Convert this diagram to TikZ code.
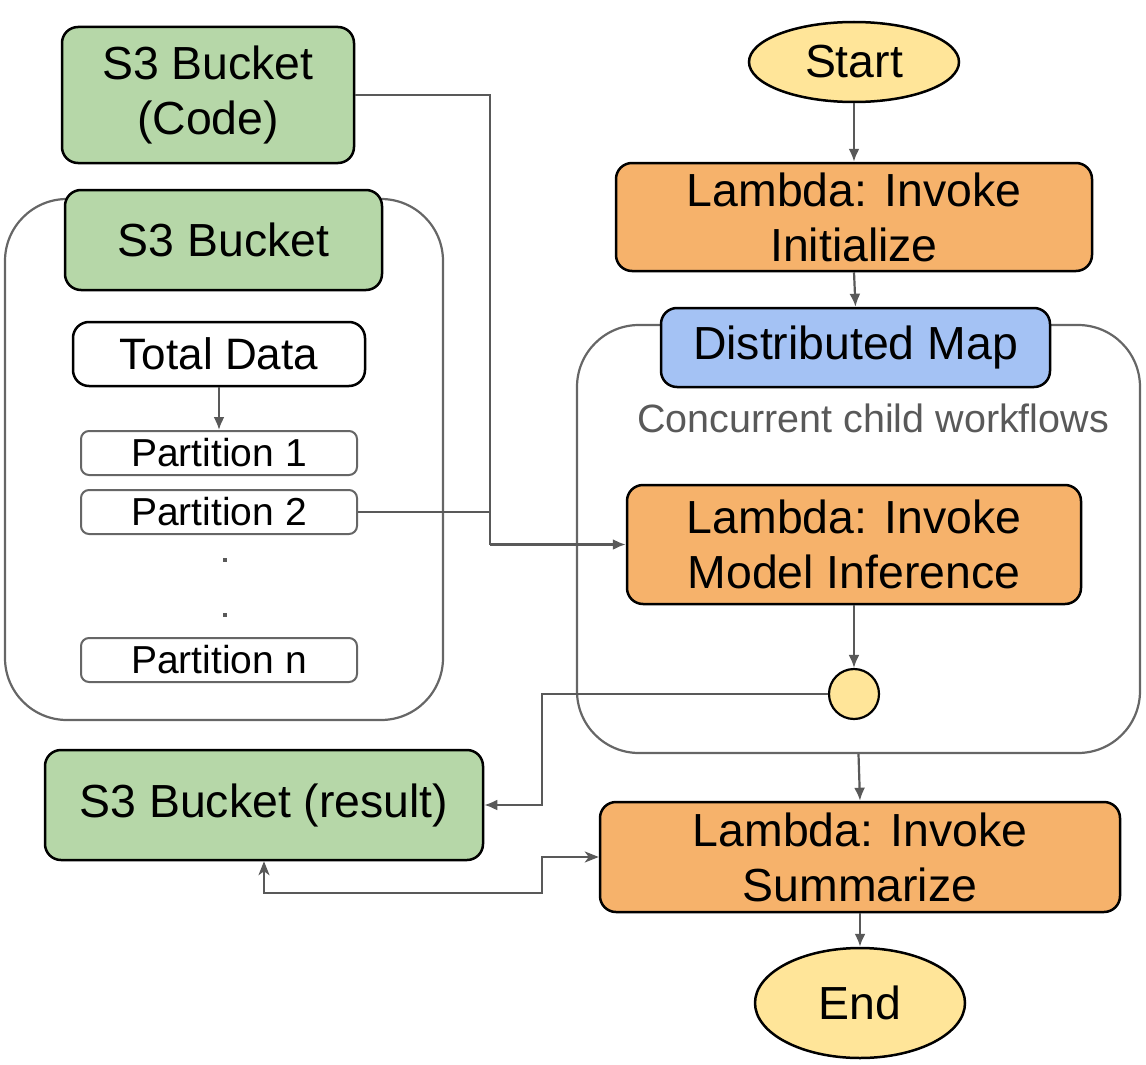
\documentclass[tikz,border=0pt]{standalone}
\usepackage{fontspec}
\setmainfont{Liberation Sans}
\usetikzlibrary{shapes.geometric,arrows.meta}
\definecolor{gfill}{HTML}{B6D7A8}
\definecolor{ofill}{HTML}{F6B26B}
\definecolor{bfill}{HTML}{A4C2F4}
\definecolor{yfill}{HTML}{FFE599}
\definecolor{conn}{HTML}{595959}
\definecolor{cont}{HTML}{666666}
\tikzset{
  big/.style={font=\fontsize{46.4}{55}\selectfont, align=center, text=black},
  box/.style={big, draw=black, line width=2.5pt, rounded corners=16pt, inner sep=0pt},
  greenbox/.style={box, fill=gfill},
  orangebox/.style={box, fill=ofill},
  bluebox/.style={box, fill=bfill},
  oval/.style={big, ellipse, draw=black, line width=2.5pt, fill=yfill, inner sep=0pt},
  part/.style={font=\fontsize{39}{46}\selectfont, draw=cont, line width=2pt, rounded corners=8pt, minimum width=276pt, minimum height=44pt, inner sep=0pt, fill=white},
  container/.style={draw=cont, line width=2.2pt, rounded corners=62pt, inner sep=0pt},
  link/.style={draw=conn, line width=2.2pt, -{Latex[length=13pt,width=11pt]}},
  plain/.style={draw=conn, line width=2.2pt},
  dotbox/.style={fill=conn, minimum size=4.5pt, inner sep=0pt}
}
\begin{document}
\begin{tikzpicture}[x=1pt,y=-1pt]
\useasboundingbox (0,0) rectangle (1146,1065);
% containers
\node[container, minimum width=438pt, minimum height=521pt] (leftbox) at (224,459.5) {};
\node[container, minimum width=563pt, minimum height=428pt] (mapbox) at (858.5,539) {};
% left side
\node[greenbox, minimum width=292pt, minimum height=136pt] (code) at (208,95) {S3 Bucket\\(Code)};
\node[greenbox, minimum width=317pt, minimum height=100pt] (s3) at (223.5,240) {S3 Bucket};
\node[box, fill=white, minimum width=292pt, minimum height=64pt, font=\fontsize{44}{50}\selectfont] (total) at (219,354) {Total Data};
\node[part] (p1) at (219,453) {Partition 1};
\node[part] (p2) at (219,512) {Partition 2};
\node[dotbox] (d1) at (225,560) {};
\node[dotbox] (d2) at (225,615) {};
\node[part] (pn) at (219,660) {Partition n};
\node[greenbox, minimum width=438pt, minimum height=110pt] (res) at (264,805) {S3 Bucket (result)};
% right side
\node[oval, minimum width=210pt, minimum height=80pt] (start) at (854,62) {Start};
\node[orangebox, minimum width=476pt, minimum height=108pt] (init) at (854,217) {Lambda: Invoke\\Initialize};
\node[bluebox, minimum width=389pt, minimum height=79pt] (dmap) at (855.5,347.5) {Distributed Map};
\node[font=\fontsize{39.5}{46}\selectfont, text=conn] (conc) at (873,418) {Concurrent child workflows};
\node[orangebox, minimum width=454pt, minimum height=119pt] (mi) at (854,544.5) {Lambda: Invoke\\Model Inference};
\node[circle, draw=black, line width=2.2pt, fill=yfill, minimum size=50pt, inner sep=0pt] (circ) at (854,694) {};
\node[orangebox, minimum width=520pt, minimum height=110pt] (sum) at (860,857) {Lambda: Invoke\\Summarize};
\node[oval, minimum width=210pt, minimum height=110pt] (end) at (860,1003) {End};
% connectors
\coordinate (j) at (490,544.5);
\coordinate (k) at (542,694);
\coordinate (m) at (542,893);
\draw[plain] (code.east) -| (j);
\draw[plain] (p2.east) -| (j);
\draw[link] (j) -- (mi.west);
\draw[link] (total.south) -- (p1.north);
\draw[link] (start.south) -- (init.north);
\draw[link] (init.south) -- (dmap.north);
\draw[link] (mi.south) -- (circ.north);
\draw[link] (circ.west) -- (k) |- (res.east);
\draw[link] (mapbox.south) -- (sum.north);
\draw[link] (sum.south) -- (end.north);
\draw[draw=conn, line width=2pt, {Stealth[length=14pt,width=11pt,inset=4pt]}-{Stealth[length=14pt,width=11pt,inset=4pt]}] (res.south) |- (m) |- (sum.west);
\end{tikzpicture}
\end{document}
